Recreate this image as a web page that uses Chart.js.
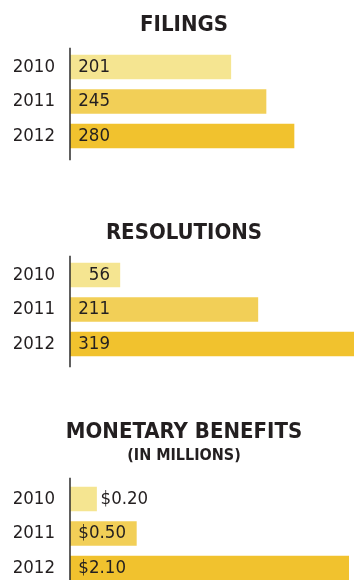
<!DOCTYPE html>
<html>
<head>
<meta charset="utf-8">
<script src="https://cdn.jsdelivr.net/npm/chart.js@4.4.1/dist/chart.umd.min.js"></script>
<style>
  html, body { margin: 0; padding: 0; background: #fff; overflow: hidden; }
  body { width: 354px; height: 580px; position: relative; }
  canvas { position: absolute; left: 0; }
</style>
</head>
<body>
<canvas id="filingsChart" width="354" height="181" style="top:0"></canvas>
<canvas id="resolutionsChart" width="354" height="181" style="top:208px"></canvas>
<canvas id="benefitsChart" width="354" height="197" style="top:416px"></canvas>
<script>
const years = ['2010', '2011', '2012'];
const filings = [201, 245, 280];
const resolutions = [56, 211, 319];
const benefits = [0.20, 0.50, 2.10];
const barColors = ['#F5E591', '#F2CF57', '#F1C22E'];

const titleFont = "'DejaVu Sans Condensed', 'DejaVu Sans', sans-serif";
const labelFont = "'DejaVu Sans Condensed', 'DejaVu Sans', sans-serif";
const labelSize = 18.5;
const inkColor = '#231f20';

// value text sits inside the bar next to the axis, or after the bar when it is too short
const valueLabels = {
    id: 'valueLabels',
    afterDatasetsDraw(chart, args, opts) {
        const ctx = chart.ctx;
        const area = chart.chartArea;
        const values = chart.data.datasets[0].data;
        ctx.save();
        ctx.font = labelSize + 'px ' + labelFont;
        ctx.fillStyle = inkColor;
        ctx.textBaseline = 'middle';
        chart.getDatasetMeta(0).data.forEach((bar, i) => {
            const text = opts.prefix + values[i].toFixed(opts.decimals);
            const anchor = area.left + opts.anchor;
            if (bar.x < anchor + 6) {
                ctx.textAlign = 'left';
                ctx.fillText(text, bar.x + 4, bar.y);
            } else {
                ctx.textAlign = 'right';
                ctx.fillText(text, anchor, bar.y);
            }
        });
        ctx.restore();
    }
};

// vertical axis line, running a bit past the first and last bars
const axisLine = {
    id: 'axisLine',
    afterDatasetsDraw(chart, args, opts) {
        const ctx = chart.ctx;
        const area = chart.chartArea;
        ctx.save();
        ctx.strokeStyle = '#2b2b2b';
        ctx.lineWidth = 1.5;
        ctx.beginPath();
        ctx.moveTo(area.left, area.top - opts.above);
        ctx.lineTo(area.left, area.bottom + opts.below);
        ctx.stroke();
        ctx.restore();
    }
};

function makeChart(id, values, max, opts) {
    const ctx = document.getElementById(id).getContext('2d');
    return new Chart(ctx, {
        type: 'bar',
        data: {
            labels: years,
            datasets: [{
                data: values,
                backgroundColor: barColors,
                borderWidth: 0,
                barThickness: 24
            }]
        },
        options: {
            indexAxis: 'y',
            responsive: false,
            animation: false,
            // left padding keeps the titles centred over the plot, not the canvas
            layout: { padding: { left: 14, right: 0, top: 0, bottom: 27.75 } },
            scales: {
                x: { display: false, min: 0, max: max },
                y: {
                    afterFit: scale => { scale.width = 56; },
                    grid: { display: false, drawTicks: false },
                    border: { display: false },
                    ticks: {
                        padding: 15,
                        color: inkColor,
                        font: { family: labelFont, size: labelSize }
                    }
                }
            },
            plugins: {
                legend: { display: false },
                tooltip: { enabled: false },
                title: {
                    display: true,
                    text: opts.title,
                    color: inkColor,
                    font: { family: titleFont, size: 22, weight: 'bold' },
                    padding: opts.titlePad
                },
                subtitle: {
                    display: !!opts.subtitle,
                    text: opts.subtitle || '',
                    color: inkColor,
                    font: { family: titleFont, size: 16, weight: 'bold' },
                    padding: opts.subtitlePad || 0
                },
                valueLabels: { prefix: opts.prefix || '', decimals: opts.decimals || 0, anchor: opts.anchor },
                axisLine: { above: opts.above, below: opts.below }
            }
        },
        plugins: [valueLabels, axisLine]
    });
}

makeChart('filingsChart', filings, 355, {
    title: 'FILINGS',
    titlePad: { top: 12, bottom: 11.3 },
    anchor: 40, above: 2, below: 7
});

makeChart('resolutionsChart', resolutions, 319, {
    title: 'RESOLUTIONS',
    titlePad: { top: 12, bottom: 11.3 },
    anchor: 40, above: 2, below: 6
});

makeChart('benefitsChart', benefits, 2.14, {
    title: 'MONETARY BENEFITS',
    titlePad: { top: 3.5, bottom: 0 },
    subtitle: '(IN MILLIONS)',
    subtitlePad: { top: 0.5, bottom: 16.1 },
    prefix: '$', decimals: 2,
    anchor: 56, above: 4, below: 12
});
</script>
</body>
</html>
